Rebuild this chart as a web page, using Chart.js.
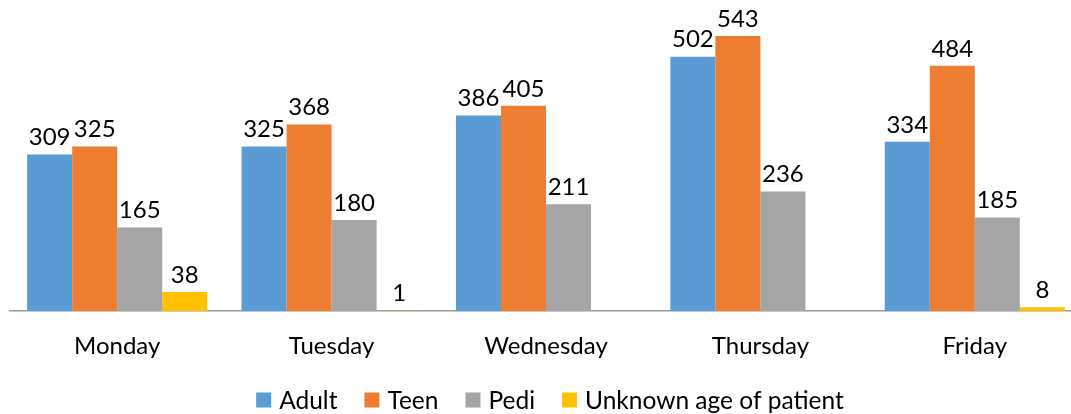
<!DOCTYPE html>
<html>
<head>
<meta charset="utf-8">
<script src="https://cdn.jsdelivr.net/npm/chart.js@4/dist/chart.umd.min.js"></script>
<style>
  html, body { margin: 0; padding: 0; background: #fff; overflow: hidden; }
  #wrap { width: 1082px; height: 414px; }
</style>
</head>
<body>
<div id="wrap"><canvas id="chart"></canvas></div>
<script>
// dni tygodnia
const days = ['Monday', 'Tuesday', 'Wednesday', 'Thursday', 'Friday']
// serie
const adult = [309, 325, 386, 502, 334]
const teen = [325, 368, 405, 543, 484]
const pedi = [165, 180, 211, 236, 185]
const unknown = [38, 1, null, null, 8]

const FONT = 'Lato, "Open Sans", sans-serif'

// etykiety nad slupkami
const valueLabels = {
  id: 'valueLabels',
  afterDatasetsDraw(chart) {
    const ctx = chart.ctx
    ctx.save()
    ctx.font = '24px ' + FONT
    ctx.fillStyle = '#000'
    ctx.textAlign = 'center'
    ctx.textBaseline = 'bottom'
    chart.data.datasets.forEach((ds, i) => {
      chart.getDatasetMeta(i).data.forEach((bar, j) => {
        const v = ds.data[j]
        if (v == null) return
        ctx.fillText(String(v), bar.x, bar.y - 5)
      })
    })
    ctx.restore()
  }
}

// legenda rysowana recznie (wieksze odstepy niz w wbudowanej)
const bottomLegend = {
  id: 'bottomLegend',
  afterDraw(chart) {
    const ctx = chart.ctx
    const box = 15, textGap = 8, itemGap = 27
    ctx.save()
    ctx.font = '24.5px ' + FONT
    ctx.textBaseline = 'middle'
    const items = chart.data.datasets.map((ds) => ({
      label: ds.label,
      color: ds.backgroundColor,
      w: box + textGap + ctx.measureText(ds.label).width
    }))
    const total = items.reduce((s, it) => s + it.w, 0) + itemGap * (items.length - 1)
    let x = 550 - total / 2
    const y = 400
    items.forEach((it) => {
      ctx.fillStyle = it.color
      ctx.fillRect(x, y - box / 2, box, box)
      ctx.fillStyle = '#000'
      ctx.fillText(it.label, x + box + textGap, y + 1)
      x += it.w + itemGap
    })
    ctx.restore()
  }
}

new Chart(document.getElementById('chart'), {
  type: 'bar',
  data: {
    labels: days,
    datasets: [
      { label: 'Adult', data: adult, backgroundColor: '#5b9bd5' },
      { label: 'Teen', data: teen, backgroundColor: '#ed7d31' },
      { label: 'Pedi', data: pedi, backgroundColor: '#a5a5a5' },
      { label: 'Unknown age of patient', data: unknown, backgroundColor: '#ffc000' }
    ]
  },
  options: {
    responsive: true,
    maintainAspectRatio: false,
    animation: false,
    layout: { padding: { left: 10, right: 0, top: 7, bottom: 40 } },
    datasets: { bar: { categoryPercentage: 0.84, barPercentage: 1 } },
    scales: {
      x: {
        grid: { display: false },
        border: { color: '#9a9a9a', width: 1.5 },
        ticks: { color: '#000', font: { family: FONT, size: 24 }, padding: 13 }
      },
      y: { display: false, min: 0, max: 600 }
    },
    plugins: {
      legend: { display: false },
      tooltip: { enabled: false }
    }
  },
  plugins: [valueLabels, bottomLegend]
})
</script>
</body>
</html>
